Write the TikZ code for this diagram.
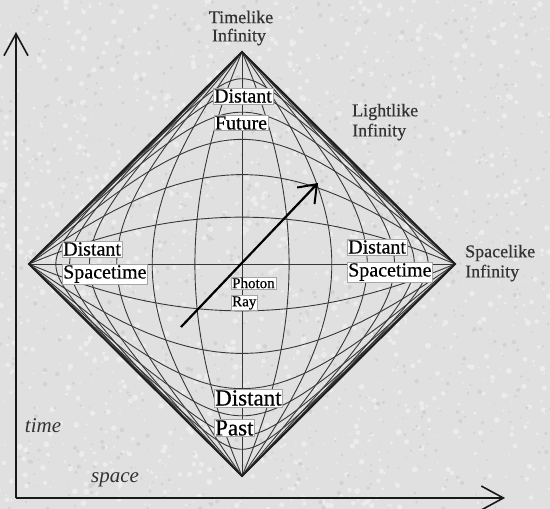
\documentclass[tikz,border=0pt]{standalone}
\usepackage{fontspec}
\setmainfont{Liberation Serif}
\newfontfamily\lblfont{Liberation Serif}[FakeBold=0.5]
\usetikzlibrary{arrows.meta}
\definecolor{bgc}{RGB}{224,224,224}
\definecolor{specklight}{RGB}{236,236,236}
\definecolor{speckdark}{RGB}{210,210,210}
\definecolor{gridc}{RGB}{55,55,55}
\definecolor{edgec}{RGB}{30,30,30}
\begin{document}
\begin{tikzpicture}[x=1pt,y=-1pt,
  gridline/.style={draw=gridc, line width=0.9pt},
  diamondedge/.style={draw=edgec, line width=1.9pt},
  boxlbl/.style={fill=white, draw=gray!70, line width=0.4pt, inner sep=1pt, text=black},
  freelbl/.style={inner sep=0pt, text=black!80},
  axis/.style={draw=black!90, line width=1.6pt}]
\fill[bgc] (0,0) rectangle (550,509);
\useasboundingbox (0,0) rectangle (550,509);
% paper texture
\pgfmathsetseed{7}
\foreach \k in {1,...,1400}{
  \pgfmathsetmacro{\px}{550*rnd}
  \pgfmathsetmacro{\py}{509*rnd}
  \pgfmathsetmacro{\pr}{0.8+2.2*rnd}
  \fill[specklight] (\px,\py) circle[radius=\pr];
}
\foreach \k in {1,...,900}{
  \pgfmathsetmacro{\px}{550*rnd}
  \pgfmathsetmacro{\py}{509*rnd}
  \pgfmathsetmacro{\pr}{0.6+1.6*rnd}
  \fill[speckdark] (\px,\py) circle[radius=\pr];
}
% vertices
\coordinate (T) at (242,52);
\coordinate (B) at (242,476);
\coordinate (L) at (29,264);
\coordinate (R) at (455,264);
% constant-r curves (timelike, bottom to top)
\foreach \rr in {0.225,0.45,0.675,0.9,1.125,1.35,-0.225,-0.45,-0.675,-0.9,-1.125,-1.35}{
  \draw[gridline] (B) -- plot[domain=-6.5:6.5, samples=220, variable=\s]
   ({242 + 106.5*(tanh(\s+\rr)-tanh(\s-\rr))},
    {264 - 106*(tanh(\s+\rr)+tanh(\s-\rr))}) -- (T);
}
% constant-t curves (spacelike, left to right)
\foreach \tc in {0.225,0.45,0.675,0.9,1.125,1.35,-0.225,-0.45,-0.675,-0.9,-1.125,-1.35}{
  \draw[gridline] (L) -- plot[domain=-6.5:6.5, samples=220, variable=\s]
   ({242 + 106.5*(tanh(\tc+\s)-tanh(\tc-\s))},
    {264 - 106*(tanh(\tc+\s)+tanh(\tc-\s))}) -- (R);
}
\draw[gridline] (B) -- (T);
\draw[gridline] (L) -- (R);
% diamond
\draw[diamondedge, line join=miter] (T) -- (R) -- (B) -- (L) -- cycle;
% labels
\node[freelbl, font=\lblfont\fontsize{18}{18}\selectfont] (tl1) at (241,17) {Timelike};
\node[freelbl, font=\lblfont\fontsize{18}{18}\selectfont] (tl2) at (239,37) {Infinity};
\node[freelbl, font=\lblfont\fontsize{18}{18}\selectfont, anchor=west] (ll1) at (352,112) {Lightlike};
\node[freelbl, font=\lblfont\fontsize{18}{18}\selectfont, anchor=west] (ll2) at (352,132) {Infinity};
\node[freelbl, font=\lblfont\fontsize{18}{18}\selectfont, anchor=west] (sl1) at (465,253) {Spacelike};
\node[freelbl, font=\lblfont\fontsize{18}{18}\selectfont, anchor=west] (sl2) at (465,273) {Infinity};
\node[boxlbl, font=\lblfont\fontsize{20}{20}\selectfont] (df1) at (243,96) {Distant};
\node[boxlbl, font=\lblfont\fontsize{20}{20}\selectfont] (df2) at (241,123) {Future};
\node[boxlbl, font=\lblfont\fontsize{20}{20}\selectfont, anchor=west] (dsl1) at (62,249) {Distant};
\node[boxlbl, font=\lblfont\fontsize{20}{20}\selectfont, anchor=west] (dsl2) at (62,274) {Spacetime};
\node[boxlbl, font=\lblfont\fontsize{20}{20}\selectfont, anchor=west] (dsr1) at (347,247) {Distant};
\node[boxlbl, font=\lblfont\fontsize{20}{20}\selectfont, anchor=west] (dsr2) at (347,272) {Spacetime};
\node[boxlbl, font=\lblfont\fontsize{15}{15}\selectfont, anchor=west] (ph1) at (231,283) {Photon};
\node[boxlbl, font=\lblfont\fontsize{15}{15}\selectfont, anchor=west] (ph2) at (231,303) {Ray};
\node[boxlbl, font=\lblfont\fontsize{23}{23}\selectfont, anchor=west] (dp1) at (214,398) {Distant};
\node[boxlbl, font=\lblfont\fontsize{23}{23}\selectfont, anchor=west] (dp2) at (214,428) {Past};
\node[freelbl, font=\fontsize{21}{21}\selectfont\itshape] (tm) at (43,426) {time};
\node[freelbl, font=\fontsize{21}{21}\selectfont\itshape] (sp) at (115,480) {space};
% photon ray
\coordinate (pa) at (181,327);
\coordinate (pb) at (318,183);
\draw[draw=black, line width=2.2pt, -{Straight Barb[length=16pt,width=24pt,line width=2pt]}] (pa) -- (pb);
% axes
\coordinate (O) at (16,498);
\coordinate (Ytip) at (16,32);
\coordinate (Xtip) at (505,498);
\draw[axis, -{Straight Barb[length=22pt,width=24pt]}] (O) -- (Ytip);
\draw[axis, -{Straight Barb[length=22pt,width=24pt]}] (O) -- (Xtip);
\end{tikzpicture}
\end{document}
